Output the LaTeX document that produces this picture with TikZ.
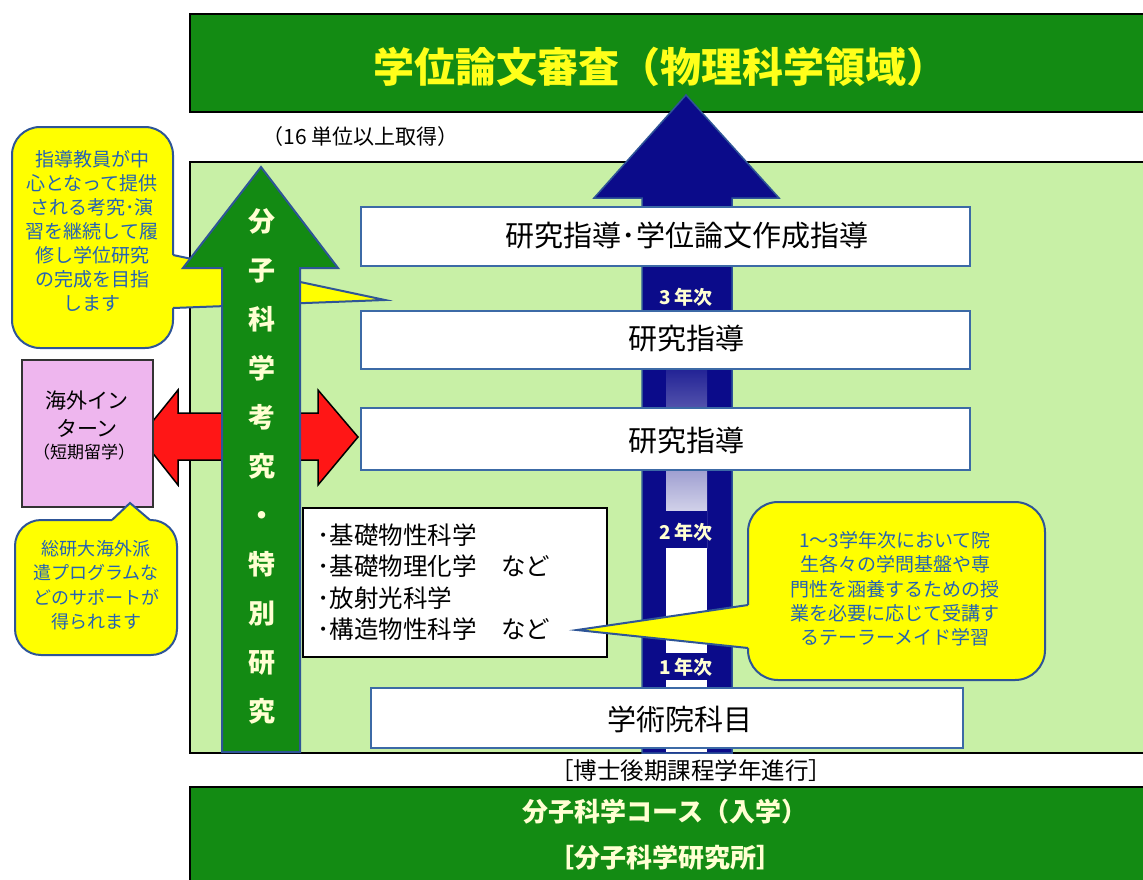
\documentclass[tikz,border=0pt]{standalone}
\usepackage{fontspec}
\setmainfont{Noto Sans CJK JP}
\definecolor{bannergreen}{HTML}{138B13}
\definecolor{lightgreen}{HTML}{C8F0A6}
\definecolor{navy}{HTML}{0B0B8A}
\definecolor{arrowoutline}{HTML}{2E5597}
\definecolor{arrowgreen}{HTML}{138A13}
\definecolor{arrowred}{HTML}{FF1616}
\definecolor{pinkfill}{HTML}{EEB6EE}
\definecolor{pinkborder}{HTML}{333333}
\definecolor{calloutyellow}{HTML}{FFFF00}
\definecolor{callblue}{HTML}{2462B4}
\definecolor{cream}{HTML}{FFFFD2}
\definecolor{titleyellow}{HTML}{FFFF1A}
\definecolor{boxblue}{HTML}{3C6AA6}
\tikzset{
  banner/.style={fill=bannergreen, draw=black, line width=1.5},
  stagebox/.style={fill=white, draw=boxblue, line width=2, inner sep=0pt},
  stagetext/.style={font=\fontsize{29}{32}\selectfont, text=black},
  callout/.style={fill=calloutyellow, draw=arrowoutline, line width=2},
  calloutfill/.style={fill=calloutyellow},
  calloutline/.style={draw=arrowoutline, line width=2, line join=miter},
  calltext/.style={text=callblue, align=center},
  yearlbl/.style={font=\fontsize{19}{22}\selectfont\bfseries, text=cream},
}
\begin{document}
\begin{tikzpicture}[x=1pt,y=-1pt]
\useasboundingbox (0,0) rectangle (1143,879);
\fill[white] (0,0) rectangle (1143,879);
% light green main area
\filldraw[fill=lightgreen, draw=black, line width=1.2] (190,162) rectangle (1160,753);
% banners
\filldraw[banner] (190,14) rectangle (1160,112);
\filldraw[banner] (190,787) rectangle (1160,900);
\node[font=\fontsize{41}{45}\selectfont\bfseries, text=titleyellow] (title) at (660,67) {学位論文審査（物理科学領域）};
\node[font=\fontsize{26}{30}\selectfont\bfseries, text=cream] (entry) at (665,812) {分子科学コース（入学）};
\node[font=\fontsize{26}{30}\selectfont\bfseries, text=cream] (inst) at (665,858) {［分子科学研究所］};
\node[font=\fontsize{21}{24}\selectfont, text=black] (credits) at (361,137) {（16 単位以上取得）};
\node[font=\fontsize{23.5}{26}\selectfont, text=black] (prog) at (691,771) {［博士後期課程学年進行］};
% blue arrow
\filldraw[fill=navy, draw=arrowoutline, line width=1.5, line join=miter] (686,95) -- (779,198) -- (732,198) -- (732,753) -- (642,753) -- (642,198) -- (594,198) -- cycle;
\shade[top color=navy, bottom color=white] (666,350) rectangle (707,548);
\fill[white] (666,548) rectangle (707,752);
\fill[navy] (666,511) rectangle (707,548);
\fill[navy] (666,653) rectangle (707,680);
\node[yearlbl] (y3) at (686,297) {3 年次};
\node[yearlbl] (y2) at (686,532) {2 年次};
\node[yearlbl] (y1) at (686,667) {1 年次};
% stage boxes
\node[stagebox, minimum width=609, minimum height=59] (b1) at (665.5,236.5) {};
\node[stagetext] (t1) at (687,236) {研究指導･学位論文作成指導};
\node[stagebox, minimum width=609, minimum height=58] (b2) at (665.5,340) {};
\node[stagetext] (t2) at (686,339) {研究指導};
\node[stagebox, minimum width=609, minimum height=62] (b3) at (665.5,439) {};
\node[stagetext] (t3) at (686,440) {研究指導};
\node[stagebox, minimum width=592, minimum height=60] (b4) at (667,718) {};
\node[stagetext] (t4) at (680,719) {学術院科目};
% callout 1 (top left)
\filldraw[callout, rounded corners=28] (12,127) rectangle (173,348);
\fill[calloutfill] (165,255) -- (173,255) -- (385,300) -- (173,308) -- (165,308) -- cycle;
\draw[calloutline] (173,255) -- (385,300) -- (173,308);
\node[calltext, font=\fontsize{19}{24}\selectfont] (c1) at (92,231) {指導教員が中\\心となって提供\\される考究･演\\習を継続して履\\修し学位研究\\の完成を目指\\します};
% red double arrow
\filldraw[fill=arrowred, draw=black, line width=1.5, line join=miter] (140,437) -- (178,390) -- (178,413) -- (318,413) -- (318,390) -- (358,437) -- (318,485) -- (318,460) -- (178,460) -- (178,485) -- cycle;
% green arrow
\filldraw[fill=arrowgreen, draw=arrowoutline, line width=2, line join=miter] (261,167) -- (338,268) -- (300,268) -- (300,752) -- (222,752) -- (222,268) -- (183,268) -- cycle;
\node[font=\fontsize{27}{49}\selectfont\bfseries, text=cream, align=center] (g) at (262,466) {分\\子\\科\\学\\考\\究\\・\\特\\別\\研\\究};
% pink box
\node[draw=pinkborder, fill=pinkfill, line width=1.5, minimum width=131, minimum height=147, inner sep=0pt] (intern) at (87.5,433.5) {};
\node[font=\fontsize{21}{28}\selectfont, align=center] (it) at (87,414) {海外イン\\ターン};
\node[font=\fontsize{17}{20}\selectfont] (it2) at (84,452) {（短期留学）};
% callout 2 (bottom left)
\filldraw[callout, rounded corners=26] (15,520) rectangle (177,655);
\fill[calloutfill] (112,528) -- (112,520) -- (130,503) -- (150,520) -- (150,528) -- cycle;
\draw[calloutline] (112,520) -- (130,503) -- (150,520);
\node[calltext, font=\fontsize{18}{24.5}\selectfont] (c2) at (96,585) {総研大海外派\\遣プログラムな\\どのサポートが\\得られます};
% list box
\node[draw=black, fill=white, line width=1.5, minimum width=304, minimum height=149, inner sep=0pt] (list) at (455,582.5) {};
\node[font=\fontsize{24.5}{31.5}\selectfont, align=left, anchor=west] (lt) at (314,582) {･基礎物性科学\\･基礎物理化学　など\\･放射光科学\\･構造物性科学　など};
% callout 3 (right)
\filldraw[callout, rounded corners=30] (748,502) rectangle (1045,680);
\fill[calloutfill] (756,605) -- (748,605) -- (577,630) -- (748,648) -- (756,648) -- cycle;
\draw[calloutline] (748,605) -- (577,630) -- (748,648);
\node[calltext, font=\fontsize{19}{24.3}\selectfont] (c3) at (895,589) {1～3学年次において院\\生各々の学問基盤や専\\門性を涵養するための授\\業を必要に応じて受講す\\るテーラーメイド学習};
\end{tikzpicture}
\end{document}
